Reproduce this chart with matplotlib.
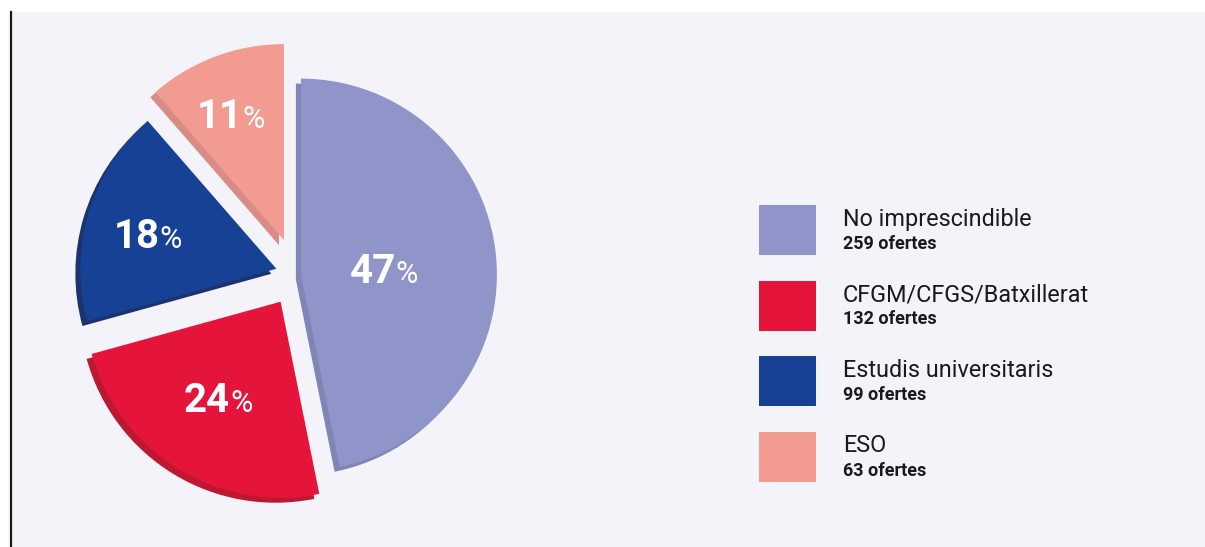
import numpy as np
import matplotlib.pyplot as plt
from matplotlib.patches import Rectangle

# dades
categories = ['No imprescindible', 'CFGM/CFGS/Batxillerat', 'Estudis universitaris', 'ESO']
ofertes = [259, 132, 99, 63]
percentatges = [47, 24, 18, 11]

colors = ['#8f95c9', '#e4143a', '#164194', '#f29c91']
ombres = ['#7f86b6', '#bc1832', '#1d3370', '#d98b86']
explode = [0.02, 0.16, 0.11, 0.19]
dist_label = [0.45, 0.56, 0.66, 0.70]

W, H = 1205, 547
fig = plt.figure(figsize=(W / 100, H / 100), dpi=100, facecolor='white')

# fons i línia vertical
bg = fig.add_axes([0, 0, 1, 1])
bg.set_xlim(0, W)
bg.set_ylim(H, 0)
bg.axis('off')
bg.add_patch(Rectangle((12, 12), W - 12, H - 12, color='#f4f3f9', zorder=0))
bg.plot([11, 11], [12, H], color='#1a1a1a', lw=1.6, zorder=1)

# pastís
R = 196.0
cx, cy = 297, 275
half = 262
ax = fig.add_axes([(cx - half) / W, (H - cy - half) / H, 2 * half / W, 2 * half / H])

sh = 5 / R
ax.pie(ofertes, colors=ombres, explode=explode, startangle=90, counterclock=False,
       center=(-sh, -sh), radius=1, wedgeprops=dict(linewidth=0), frame=True)
wedges, _ = ax.pie(ofertes, colors=colors, explode=explode, startangle=90, counterclock=False,
                   center=(0, 0), radius=1, wedgeprops=dict(linewidth=0), frame=True)
ax.set_xlim(-half / R, half / R)
ax.set_ylim(-half / R, half / R)
ax.set_aspect('equal')
ax.axis('off')

for w, p, d in zip(wedges, percentatges, dist_label):
    mid = np.deg2rad((w.theta1 + w.theta2) / 2)
    x = w.center[0] + d * np.cos(mid)
    y = w.center[1] + d * np.sin(mid)
    ax.annotate(str(p), (x, y), xytext=(5, -12), textcoords='offset points',
                ha='right', va='baseline', fontsize=29, fontweight='bold',
                color='white', family='Roboto')
    ax.annotate('%', (x, y), xytext=(5, -12), textcoords='offset points',
                ha='left', va='baseline', fontsize=22, color='white', family='Roboto')

# llegenda
for i, (cat, n, c) in enumerate(zip(categories, ofertes, colors)):
    y0 = 205 + i * 75.5
    bg.add_patch(Rectangle((759, y0), 57, 50, color=c, lw=0, zorder=2))
    bg.text(843, y0 + 21, cat, fontsize=16.8, color='#1a1a1a', family='Roboto',
            va='baseline', ha='left')
    bg.text(843, y0 + 44, f'{n} ofertes', fontsize=13, fontweight='bold',
            color='#1a1a1a', family='Roboto', va='baseline', ha='left')

fig.savefig('out.png', dpi=100, facecolor='white')
